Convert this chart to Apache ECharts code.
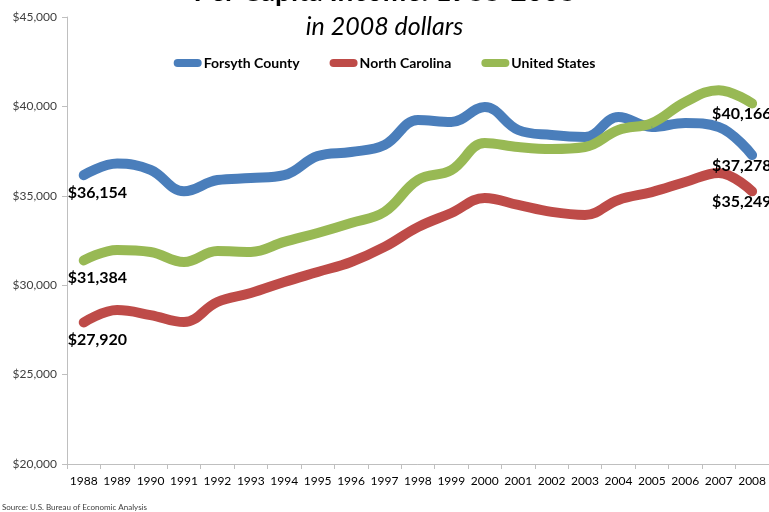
<!DOCTYPE html>
<html>
<head>
<meta charset="utf-8">
<script src="https://cdn.jsdelivr.net/npm/echarts@6/dist/echarts.min.js"></script>
<style>
  html, body { margin: 0; padding: 0; background: #fff; }
  #chart { width: 769px; height: 512px; }
</style>
</head>
<body>
<div id="chart"></div>
<script>
// Per capita income 1988-2008 (2008 dollars), three smoothed thick lines
// with first/last value labels, Excel-style.

const years = ['1988', '1989', '1990', '1991', '1992', '1993', '1994', '1995', '1996', '1997',
  '1998', '1999', '2000', '2001', '2002', '2003', '2004', '2005', '2006', '2007', '2008'];

const forsyth = [36154, 36800, 36450, 35250, 35880, 35990, 36150, 37220, 37450, 37840,
  39240, 39130, 39970, 38680, 38400, 38290, 39410, 38850, 39070, 38850, 37278];
const northCarolina = [27920, 28610, 28330, 27940, 29060, 29560, 30180, 30740, 31300, 32140,
  33250, 34040, 34880, 34490, 34100, 33930, 34770, 35210, 35770, 36280, 35249];
const unitedStates = [31384, 31970, 31860, 31300, 31910, 31860, 32420, 32920, 33480, 34100,
  35880, 36440, 37950, 37730, 37620, 37730, 38680, 39070, 40250, 40910, 40166];

const FONT = 'Lato, "Open Sans", sans-serif';

function money(v) {
  return '$' + String(Math.round(v)).replace(/\B(?=(\d{3})+(?!\d))/g, ',');
}

// only the first and last points get a value label, set under the point
function withEndLabels(values) {
  const last = values.length - 1;
  return values.map((v, i) => {
    if (i === 0) {
      return { value: v, label: { show: true, position: 'bottom', distance: 9, align: 'left', offset: [-16, 0] } };
    }
    if (i === last) {
      return { value: v, label: { show: true, position: 'bottom', distance: 2, align: 'left', offset: [-40, 0] } };
    }
    return v;
  });
}

const pill = 'path://M4,0 H24 A4,4 0 0 1 24,8 H4 A4,4 0 0 1 4,0 Z';

function lineSeries(name, values, color) {
  return {
    name,
    type: 'line',
    smooth: 0.4,
    symbol: 'circle',
    symbolSize: 1,
    showSymbol: true,
    itemStyle: { color },
    lineStyle: { width: 10, color, cap: 'round', join: 'round' },
    label: {
      show: false,
      color: '#000',
      fontFamily: FONT,
      fontWeight: 'bold',
      fontSize: 16,
      formatter: (p) => money(p.value),
    },
    emphasis: { disabled: true },
    data: withEndLabels(values),
  };
}

const chart = echarts.init(document.getElementById('chart'), null, { renderer: 'canvas' });

chart.setOption({
  backgroundColor: '#fff',
  animation: false,
  textStyle: { fontFamily: FONT },
  graphic: [
    {
      type: 'text', left: 'center', top: -22,
      style: { text: 'Per Capita Income: 1988-2008', font: 'bold 28px ' + FONT, fill: '#000' },
    },
    {
      type: 'text', left: 'center', top: 14,
      style: { text: 'in 2008 dollars', font: 'italic 25px ' + FONT, fill: '#000' },
    },
    {
      type: 'text', left: 2, top: 503,
      style: { text: 'Source: U.S. Bureau of Economic Analysis', font: '8px ' + FONT, fill: '#404040' },
    },
  ],
  legend: {
    top: 51,
    left: 'center',
    icon: pill,
    itemWidth: 28,
    itemHeight: 8,
    itemGap: 30,
    textStyle: { fontFamily: FONT, fontWeight: 'bold', fontSize: 14, color: '#000', padding: [0, 0, 0, -3] },
    data: ['Forsyth County', 'North Carolina', 'United States'],
  },
  grid: { left: 67, right: -1, top: 17, bottom: 48 },
  xAxis: {
    type: 'category',
    data: years,
    boundaryGap: true,
    axisLine: { lineStyle: { color: '#bfbfbf', width: 1 } },
    axisTick: { show: true, length: 5, interval: 0, lineStyle: { color: '#bfbfbf' } },
    axisLabel: { color: '#000', fontSize: 12, fontFamily: FONT, margin: 11, interval: 0 },
    splitLine: { show: false },
  },
  yAxis: {
    type: 'value',
    min: 20000,
    max: 45000,
    interval: 5000,
    axisLine: { show: true, lineStyle: { color: '#bfbfbf', width: 1 } },
    axisTick: { show: true, length: 5, lineStyle: { color: '#bfbfbf' } },
    axisLabel: { color: '#404040', fontSize: 12, fontFamily: FONT, margin: 10, formatter: money },
    splitLine: { show: false },
  },
  series: [
    lineSeries('Forsyth County', forsyth, '#4a7ebb'),
    lineSeries('North Carolina', northCarolina, '#be4b48'),
    lineSeries('United States', unitedStates, '#98b954'),
  ],
});
</script>
</body>
</html>
